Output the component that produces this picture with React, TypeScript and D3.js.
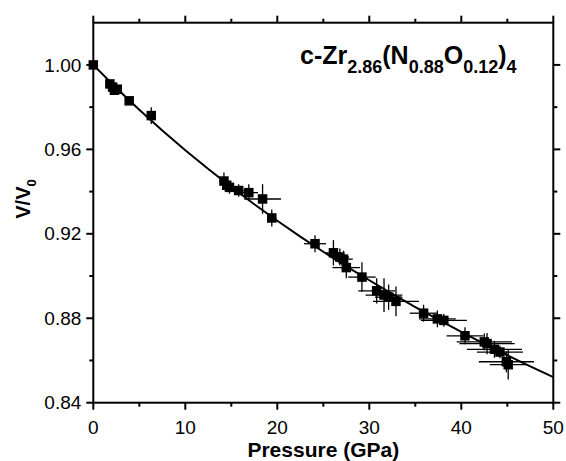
import React from "react";
import * as d3 from "d3";

const pressure = [0, 1.8, 2.1, 2.3, 2.6, 3.9, 6.3, 14.2, 14.5, 14.8, 15.8, 16.9, 18.4, 19.4, 24.1, 26.1, 26.8, 27.2, 27.5, 29.2, 30.8, 31.6, 32.1, 32.9, 35.9, 37.4, 38.1, 40.4, 42.5, 42.8, 43.6, 44.2, 44.9, 45.1];
const volume = [1.0, 0.991, 0.9895, 0.988, 0.9885, 0.983, 0.976, 0.945, 0.943, 0.942, 0.9405, 0.9395, 0.9365, 0.9275, 0.9153, 0.911, 0.909, 0.908, 0.904, 0.8995, 0.893, 0.891, 0.89, 0.888, 0.8824, 0.8797, 0.879, 0.8717, 0.8688, 0.868, 0.8653, 0.864, 0.8594, 0.858];
const pressureErr = [0, 0.3, 0.3, 0.3, 0.3, 0.3, 0.3, 0.5, 0.5, 0.5, 0.6, 1.0, 2.0, 0.5, 1.2, 0.8, 1.0, 1.0, 1.5, 1.5, 2.0, 2.0, 1.5, 2.5, 1.5, 2.0, 2.5, 2.0, 3.0, 3.0, 3.0, 2.5, 3.0, 2.0];
const volumeErr = [0, 0.002, 0.002, 0.002, 0.002, 0.0015, 0.004, 0.004, 0.003, 0.003, 0.003, 0.004, 0.007, 0.004, 0.004, 0.006, 0.004, 0.004, 0.005, 0.007, 0.006, 0.008, 0.006, 0.007, 0.004, 0.004, 0.003, 0.004, 0.004, 0.005, 0.004, 0.003, 0.005, 0.007];

const fitP = [0, 2.5, 5, 7.5, 10, 12.5, 15, 17.5, 20, 22.5, 25, 27.5, 30, 32.5, 35, 37.5, 40, 42.5, 45, 47.5, 50];
const fitV = [1.0, 0.9891, 0.9788, 0.9689, 0.9596, 0.9507, 0.9422, 0.934, 0.9262, 0.9187, 0.9115, 0.9046, 0.898, 0.8915, 0.8853, 0.8793, 0.8735, 0.8679, 0.8625, 0.8572, 0.8521];

const xMajor = [0, 10, 20, 30, 40, 50];
const xMinor = [5, 15, 25, 35, 45];
const yMajor = [0.84, 0.88, 0.92, 0.96, 1.0];
const yMinor = [0.86, 0.9, 0.94, 0.98];

const W = 566, H = 461;
const L = 93.3, R = 553.3, T = 22.7, B = 402.7;
const FONT = "'Liberation Sans', Arial, Helvetica, sans-serif";

export default function App() {
  const x = d3.scaleLinear().domain([0, 50]).range([L, R]);
  const y = d3.scaleLinear().domain([0.84, 1.02]).range([B, T]);
  const line = d3.line<number>().x((_, i) => x(fitP[i])).y((d) => y(d));
  const sq = 9.5;
  const majorLen = 7, minorLen = 4;
  return (
    <svg width={W} height={H} style={{ position: "absolute", left: 0, top: 0, background: "#fff" }} fontFamily={FONT}>
      <defs>
        <clipPath id="plot"><rect x={L} y={T} width={R - L} height={B - T} /></clipPath>
      </defs>
      {/* error bars */}
      <g stroke="#000" strokeWidth={1.3}>
        {pressure.map((p, i) => (
          <g key={"e" + i}>
            {pressureErr[i] > 0 && <line x1={x(p - pressureErr[i])} x2={x(p + pressureErr[i])} y1={y(volume[i])} y2={y(volume[i])} />}
            {volumeErr[i] > 0 && <line x1={x(p)} x2={x(p)} y1={y(volume[i] - volumeErr[i])} y2={y(volume[i] + volumeErr[i])} />}
          </g>
        ))}
      </g>
      {/* fit curve */}
      <path d={line(fitV) || ""} fill="none" stroke="#000" strokeWidth={2} clipPath="url(#plot)" />
      {/* markers */}
      <g fill="#000">
        {pressure.map((p, i) => (
          <rect key={"m" + i} x={x(p) - sq / 2} y={y(volume[i]) - sq / 2} width={sq} height={sq} />
        ))}
      </g>
      {/* axes frame */}
      <g stroke="#000" strokeWidth={2} fill="none">
        <rect x={L} y={T} width={R - L} height={B - T} />
        {xMajor.map((v) => (
          <g key={"xm" + v}>
            <line x1={x(v)} x2={x(v)} y1={B} y2={B + majorLen} />
            <line x1={x(v)} x2={x(v)} y1={T} y2={T - majorLen} />
          </g>
        ))}
        {xMinor.map((v) => (
          <g key={"xn" + v}>
            <line x1={x(v)} x2={x(v)} y1={B} y2={B + minorLen} />
            <line x1={x(v)} x2={x(v)} y1={T} y2={T - minorLen} />
          </g>
        ))}
        {yMajor.map((v) => (
          <g key={"ym" + v}>
            <line x1={L} x2={L - majorLen} y1={y(v)} y2={y(v)} />
            <line x1={R} x2={R + majorLen} y1={y(v)} y2={y(v)} />
          </g>
        ))}
        {yMinor.map((v) => (
          <g key={"yn" + v}>
            <line x1={L} x2={L - minorLen} y1={y(v)} y2={y(v)} />
            <line x1={R} x2={R + minorLen} y1={y(v)} y2={y(v)} />
          </g>
        ))}
      </g>
      {/* tick labels */}
      <g fontSize={19} fill="#000">
        {xMajor.map((v) => (
          <text key={"xl" + v} x={x(v)} y={B + 31} textAnchor="middle">{d3.format("d")(v)}</text>
        ))}
        {yMajor.map((v) => (
          <text key={"yl" + v} x={L - 12} y={y(v)} dy="0.35em" textAnchor="end">{d3.format(".2f")(v)}</text>
        ))}
      </g>
      {/* axis titles */}
      <text x={(L + R) / 2} y={457} textAnchor="middle" fontSize={21} fontWeight="bold">Pressure (GPa)</text>
      <text transform={`translate(30,199) rotate(-90)`} textAnchor="middle" fontSize={20} fontWeight="bold">
        V/V<tspan fontSize={13} dy={6}>0</tspan>
      </text>
      {/* compound label */}
      <text x={300} y={64} fontSize={25} fontWeight="bold">
        c-Zr<tspan fontSize={18} dy={9}>2.86</tspan>
        <tspan dy={-9}>(N</tspan>
        <tspan fontSize={18} dy={9}>0.88</tspan>
        <tspan dy={-9}>O</tspan>
        <tspan fontSize={18} dy={9}>0.12</tspan>
        <tspan dy={-9}>)</tspan>
        <tspan fontSize={18} dy={9}>4</tspan>
      </text>
    </svg>
  );
}
